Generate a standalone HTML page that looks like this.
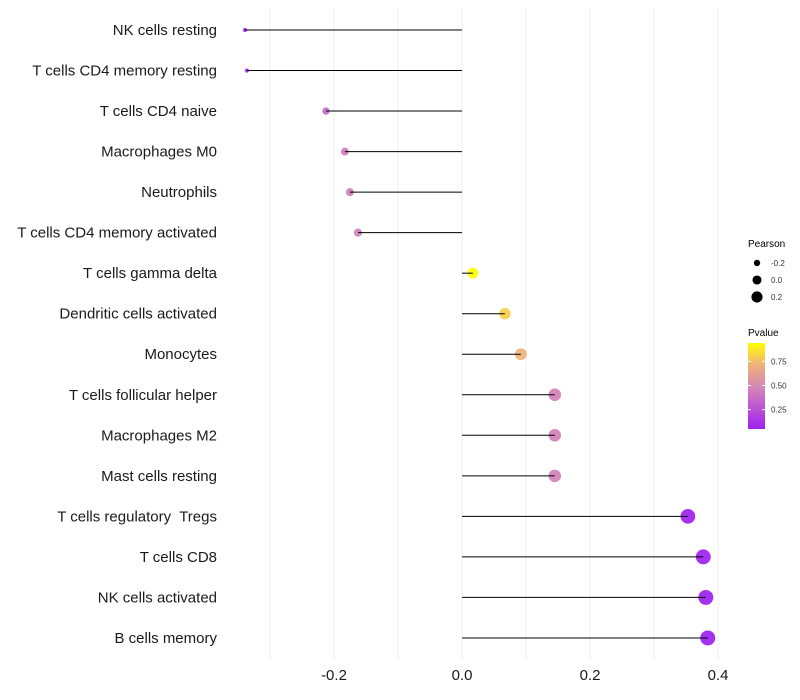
<!DOCTYPE html>
<html><head><meta charset="utf-8"><style>
body{margin:0;background:#fff;}
svg{display:block;font-family:"Liberation Sans",sans-serif;}
</style></head><body>
<svg id="chart" width="800" height="700">
<defs><linearGradient id="pg" x1="0" y1="1" x2="0" y2="0">
<stop offset="0" stop-color="#A020F0"/><stop offset="0.5" stop-color="#D58AB4"/><stop offset="0.75" stop-color="#EFB27A"/><stop offset="1" stop-color="#FFFF00"/></linearGradient></defs>
<g id="grid"></g>
<g id="points"></g>
<g id="marks"></g>
<g id="ylabels"></g>
<g id="xlabels"></g>
<g>
<text x="748" y="247" font-size="10" fill="#000">Pearson</text>
<g id="sizeleg"></g>
</g>
<g>
<text x="748" y="336" font-size="10" fill="#000">Pvalue</text>
<rect x="748" y="343" width="17" height="86" fill="url(#pg)"/>
<g id="colleg"></g>
</g>
</svg>
<script>
const categories=["NK cells resting","T cells CD4 memory resting","T cells CD4 naive","Macrophages M0","Neutrophils","T cells CD4 memory activated","T cells gamma delta","Dendritic cells activated","Monocytes","T cells follicular helper","Macrophages M2","Mast cells resting","T cells regulatory  Tregs","T cells CD8","NK cells activated","B cells memory"];
const pearson=[-0.339,-0.336,-0.2125,-0.183,-0.175,-0.1625,0.017,0.067,0.092,0.145,0.145,0.145,0.353,0.377,0.381,0.384];
const pvalue=[0.05,0.06,0.35,0.42,0.44,0.45,0.95,0.8,0.72,0.45,0.45,0.45,0.05,0.05,0.05,0.05];
const xTicks=[-0.2,0,0.2,0.4];
const xTickLabels=["-0.2","0.0","0.2","0.4"];
const sizeLegVals=[-0.2,0,0.2];
const colLegVals=[0.25,0.5,0.75];

const NS="http://www.w3.org/2000/svg";
const x=v=>462+v*640;
const y=i=>30+i*40.53;
const r=p=>Math.sqrt(Math.max(2,28.5+72*p));
const pmin=0.05,pmax=0.94;
const cy=p=>429-(p-pmin)/(pmax-pmin)*86;
function lerp(a,b,t){return a.map((v,i)=>Math.round(v+(b[i]-v)*t));}
function col(p){const t=Math.max(0,Math.min(1,(p-pmin)/(pmax-pmin)));
 const A=[160,32,240],M=[213,138,180],O=[239,178,122],Y=[255,255,0];
 let c;
 if(t<0.5)c=lerp(A,M,t*2);else if(t<0.75)c=lerp(M,O,(t-0.5)*4);else c=lerp(O,Y,(t-0.75)*4);
 return `rgb(${c.join(',')})`;}
function mk(tag,attrs,parent){const e=document.createElementNS(NS,tag);for(const k in attrs)e.setAttribute(k,attrs[k]);parent.appendChild(e);return e;}

const grid=document.getElementById('grid');
for(let v=-0.3;v<=0.41;v+=0.1){
 const l=mk('line',{x1:x(v),x2:x(v),y1:8,y2:660,stroke:'#f0f0f0','stroke-width':1},grid);
 
 
}
const marks=document.getElementById('marks');
const pts=document.getElementById('points');
const yl=document.getElementById('ylabels');
categories.forEach((c,i)=>{
 const pt=mk('circle',{cx:x(pearson[i]),cy:y(i),r:r(pearson[i]),fill:col(pvalue[i]),'fill-opacity':0.92},pts);
 
 
 const ln=mk('line',{x1:x(0),x2:x(pearson[i]),y1:y(i),y2:y(i),stroke:'#000','stroke-width':1},marks);
 
 
 const t=mk('text',{x:217,y:y(i)+5,'text-anchor':'end','font-size':15,fill:'#1a1a1a','xml:space':'preserve',style:'white-space:pre'},yl);
 t.textContent=c;
 
 
});
const xl=document.getElementById('xlabels');
xTicks.forEach((v,i)=>{
 const t=mk('text',{x:x(v),y:680,'text-anchor':'middle','font-size':15,fill:'#1a1a1a'},xl);
 t.textContent=xTickLabels[i];
 
 
});
const sl=document.getElementById('sizeleg');
sizeLegVals.forEach((v,i)=>{
 const yy=263+i*17;
 const c=mk('circle',{cx:757,cy:yy,r:r(v)*0.85,fill:'#000'},sl);
 
 
 const t=mk('text',{x:771,y:yy+3,'font-size':8,fill:'#333'},sl);
 t.textContent=v===0?'0.0':v.toFixed(1);
 
 
});
const cl=document.getElementById('colleg');
colLegVals.forEach(v=>{
 const yy=cy(v);
 mk('line',{x1:748,x2:751,y1:yy,y2:yy,stroke:'#fff'},cl);
 mk('line',{x1:762,x2:765,y1:yy,y2:yy,stroke:'#fff'},cl);
 const t=mk('text',{x:771,y:yy+3,'font-size':8,fill:'#333'},cl);
 t.textContent=v.toFixed(2);
 
 
});
</script>
</body></html>
